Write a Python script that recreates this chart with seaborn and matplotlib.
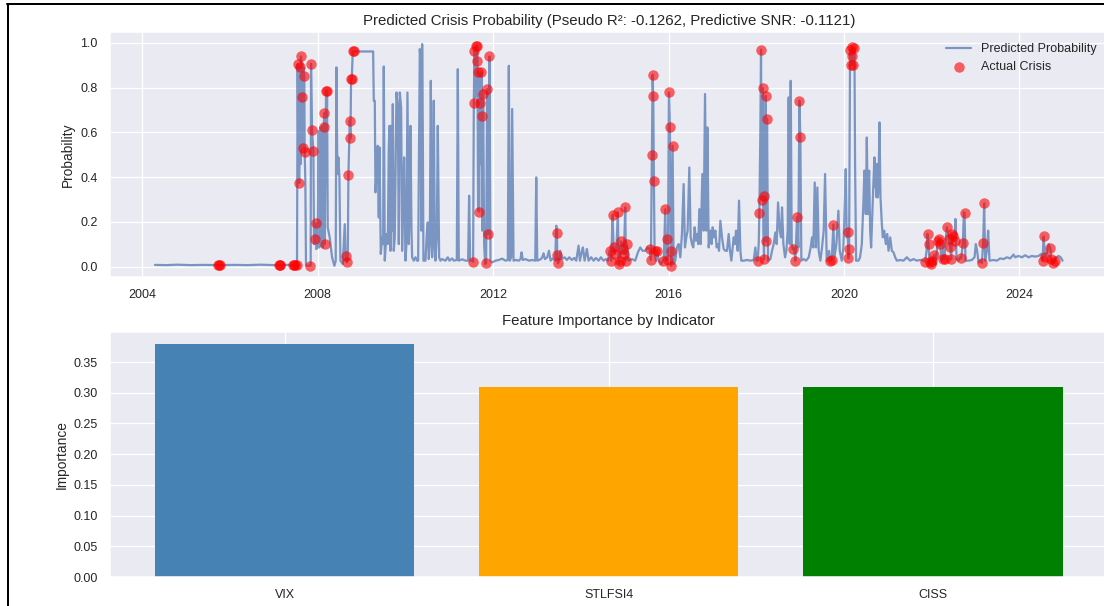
import matplotlib
matplotlib.use("Agg")
import matplotlib.pyplot as plt
import matplotlib.dates as mdates
from matplotlib.lines import Line2D
import pandas as pd
import seaborn as sns

# ---------------------------------------------------------------------------
# Weekly predicted crisis probability, (decimal year, probability)
# ---------------------------------------------------------------------------
prob_2004_2007 = [
    (2004.290, 0.008), (2004.550, 0.007), (2004.800, 0.009), (2005.100, 0.007),
    (2005.400, 0.008), (2005.750, 0.007), (2006.100, 0.008), (2006.400, 0.007),
    (2006.700, 0.009), (2007.000, 0.007), (2007.130, 0.007), (2007.300, 0.008),
    (2007.460, 0.007), (2007.528, 0.007),
]
prob_2007_2009 = [
    (2007.543, 0.905), (2007.559, 0.429), (2007.581, 0.374), (2007.597, 0.893),
    (2007.612, 0.458), (2007.619, 0.939), (2007.635, 0.607), (2007.642, 0.756),
    (2007.657, 0.530), (2007.673, 0.890), (2007.695, 0.853), (2007.703, 0.510),
    (2007.718, 0.384), (2007.733, 0.006), (2007.817, 0.004), (2007.840, 0.006),
    (2007.848, 0.906), (2007.870, 0.612), (2007.901, 0.518), (2007.916, 0.101),
    (2007.931, 0.124), (2007.954, 0.193), (2007.969, 0.079), (2008.000, 0.086),
    (2008.023, 0.607), (2008.038, 0.086), (2008.061, 0.622), (2008.084, 0.094),
    (2008.106, 0.629), (2008.121, 0.086), (2008.137, 0.626), (2008.152, 0.686),
    (2008.159, 0.101), (2008.175, 0.458), (2008.190, 0.786), (2008.205, 0.607),
    (2008.213, 0.786), (2008.228, 0.176), (2008.273, 0.131), (2008.327, 0.042),
    (2008.380, 0.004), (2008.410, 0.027), (2008.426, 0.890), (2008.448, 0.414),
    (2008.471, 0.488), (2008.494, 0.399), (2008.517, 0.027), (2008.570, 0.012),
    (2008.616, 0.190), (2008.638, 0.027), (2008.654, 0.049), (2008.661, 0.019),
    (2008.684, 0.027), (2008.699, 0.411), (2008.730, 0.652), (2008.745, 0.573),
    (2008.760, 0.838), (2008.775, 0.838), (2008.798, 0.961), (2008.821, 0.961),
    (2009.262, 0.961),
]
prob_2009_2011 = [
    (2009.277, 0.741), (2009.300, 0.741), (2009.315, 0.332), (2009.338, 0.399),
    (2009.353, 0.533), (2009.369, 0.540), (2009.391, 0.220), (2009.406, 0.533),
    (2009.437, 0.057), (2009.467, 0.131), (2009.490, 0.101), (2009.505, 0.894),
    (2009.528, 0.027), (2009.566, 0.146), (2009.597, 0.101), (2009.619, 0.533),
    (2009.635, 0.629), (2009.657, 0.071), (2009.680, 0.629), (2009.695, 0.161),
    (2009.711, 0.726), (2009.733, 0.071), (2009.756, 0.131), (2009.794, 0.778),
    (2009.825, 0.711), (2009.848, 0.101), (2009.870, 0.778), (2009.901, 0.711),
    (2009.924, 0.071), (2009.946, 0.310), (2009.969, 0.488), (2010.000, 0.027),
    (2010.022, 0.101), (2010.045, 0.778), (2010.076, 0.101), (2010.099, 0.310),
    (2010.114, 0.629), (2010.137, 0.161), (2010.152, 0.042), (2010.190, 0.027),
    (2010.228, 0.042), (2010.266, 0.027), (2010.289, 0.027), (2010.312, 0.607),
    (2010.327, 0.972), (2010.350, 0.890), (2010.365, 0.161), (2010.380, 0.994),
    (2010.395, 0.607), (2010.410, 0.027), (2010.456, 0.027), (2010.486, 0.146),
    (2010.509, 0.198), (2010.532, 0.034), (2010.555, 0.101), (2010.578, 0.830),
    (2010.608, 0.042), (2010.631, 0.161), (2010.646, 0.741), (2010.669, 0.101),
    (2010.684, 0.027), (2010.714, 0.131), (2010.737, 0.629), (2010.768, 0.042),
    (2010.798, 0.027), (2010.836, 0.034), (2010.912, 0.027), (2010.965, 0.042),
    (2011.003, 0.027), (2011.064, 0.037), (2011.102, 0.027), (2011.171, 0.030),
    (2011.194, 0.882), (2011.216, 0.027), (2011.292, 0.033), (2011.368, 0.027),
    (2011.429, 0.027), (2011.452, 0.317), (2011.475, 0.027),
]
prob_2011_2013 = [
    (2011.521, 0.027), (2011.543, 0.022), (2011.559, 0.729), (2011.574, 0.964),
    (2011.589, 0.756), (2011.604, 0.984), (2011.619, 0.830), (2011.635, 0.987),
    (2011.642, 0.920), (2011.657, 0.250), (2011.665, 0.868), (2011.680, 0.246),
    (2011.695, 0.729), (2011.718, 0.458), (2011.733, 0.868), (2011.741, 0.674),
    (2011.756, 0.161), (2011.771, 0.771), (2011.795, 0.101), (2011.817, 0.012),
    (2011.840, 0.016), (2011.863, 0.793), (2011.885, 0.146), (2011.916, 0.939),
    (2011.939, 0.027), (2011.977, 0.019), (2012.053, 0.027), (2012.129, 0.030),
    (2012.205, 0.036), (2012.281, 0.027), (2012.334, 0.030), (2012.357, 0.897),
    (2012.380, 0.027), (2012.410, 0.042), (2012.433, 0.704), (2012.464, 0.027),
    (2012.524, 0.030), (2012.585, 0.027), (2012.623, 0.034), (2012.646, 0.064),
    (2012.676, 0.030), (2012.737, 0.034), (2012.813, 0.027), (2012.889, 0.030),
    (2012.958, 0.027), (2012.981, 0.399), (2013.003, 0.027), (2013.080, 0.033),
    (2013.118, 0.042), (2013.148, 0.060), (2013.178, 0.034), (2013.232, 0.042),
    (2013.270, 0.071), (2013.308, 0.027), (2013.346, 0.036), (2013.414, 0.027),
    (2013.437, 0.183), (2013.452, 0.149), (2013.460, 0.054), (2013.475, 0.015),
    (2013.505, 0.027),
]
prob_2013_2016 = [
    (2013.528, 0.071), (2013.566, 0.034), (2013.627, 0.042), (2013.680, 0.030),
    (2013.733, 0.042), (2013.794, 0.030), (2013.848, 0.039), (2013.893, 0.027),
    (2013.946, 0.094), (2013.977, 0.027), (2014.023, 0.071), (2014.045, 0.086),
    (2014.083, 0.027), (2014.136, 0.079), (2014.174, 0.027), (2014.235, 0.042),
    (2014.289, 0.027), (2014.342, 0.039), (2014.403, 0.027), (2014.456, 0.042),
    (2014.517, 0.027), (2014.570, 0.034), (2014.616, 0.027), (2014.654, 0.071),
    (2014.692, 0.027), (2014.722, 0.232), (2014.745, 0.086), (2014.783, 0.057),
    (2014.813, 0.101), (2014.844, 0.243), (2014.859, 0.012), (2014.897, 0.027),
    (2014.920, 0.113), (2014.958, 0.079), (2014.981, 0.057), (2015.011, 0.265),
    (2015.026, 0.027), (2015.049, 0.101), (2015.087, 0.027), (2015.163, 0.034),
    (2015.239, 0.027), (2015.300, 0.064), (2015.353, 0.086), (2015.407, 0.071),
    (2015.467, 0.071), (2015.521, 0.086), (2015.566, 0.079), (2015.597, 0.030),
    (2015.619, 0.499), (2015.635, 0.857), (2015.650, 0.760), (2015.665, 0.381),
    (2015.680, 0.071), (2015.711, 0.027), (2015.733, 0.071), (2015.772, 0.027),
    (2015.832, 0.012), (2015.870, 0.027), (2015.893, 0.042), (2015.924, 0.257),
    (2015.946, 0.027), (2015.970, 0.124), (2015.985, 0.030), (2016.008, 0.778),
    (2016.030, 0.626), (2016.045, 0.071), (2016.060, 0.004), (2016.091, 0.540),
    (2016.114, 0.012),
]
prob_2016_2019 = [
    (2016.152, 0.027), (2016.190, 0.086), (2016.228, 0.101), (2016.266, 0.042),
    (2016.304, 0.146), (2016.342, 0.369), (2016.372, 0.086), (2016.403, 0.131),
    (2016.433, 0.161), (2016.471, 0.443), (2016.502, 0.131), (2016.532, 0.101),
    (2016.562, 0.086), (2016.593, 0.176), (2016.623, 0.116), (2016.654, 0.146),
    (2016.676, 0.101), (2016.699, 0.257), (2016.730, 0.101), (2016.768, 0.414),
    (2016.798, 0.161), (2016.829, 0.771), (2016.859, 0.161), (2016.882, 0.622),
    (2016.912, 0.086), (2016.950, 0.161), (2016.980, 0.101), (2017.003, 0.176),
    (2017.034, 0.131), (2017.064, 0.161), (2017.094, 0.086), (2017.125, 0.101),
    (2017.148, 0.071), (2017.178, 0.205), (2017.216, 0.131), (2017.254, 0.079),
    (2017.292, 0.071), (2017.330, 0.071), (2017.368, 0.146), (2017.398, 0.071),
    (2017.429, 0.027), (2017.460, 0.086), (2017.483, 0.131), (2017.513, 0.101),
    (2017.536, 0.161), (2017.574, 0.071), (2017.604, 0.295), (2017.635, 0.071),
    (2017.657, 0.027), (2017.711, 0.027), (2017.787, 0.030), (2017.863, 0.027),
    (2017.939, 0.030), (2017.977, 0.086), (2018.007, 0.027), (2018.030, 0.027),
    (2018.053, 0.101), (2018.068, 0.240), (2018.091, 0.607), (2018.106, 0.969),
    (2018.121, 0.298), (2018.144, 0.798), (2018.159, 0.161), (2018.175, 0.034),
    (2018.182, 0.314), (2018.197, 0.458), (2018.213, 0.763), (2018.228, 0.113),
    (2018.243, 0.661), (2018.266, 0.027), (2018.319, 0.034), (2018.357, 0.071),
    (2018.395, 0.101), (2018.433, 0.153), (2018.463, 0.101), (2018.494, 0.287),
    (2018.532, 0.161), (2018.562, 0.131), (2018.585, 0.265), (2018.616, 0.101),
    (2018.654, 0.042), (2018.684, 0.071), (2018.714, 0.161), (2018.737, 0.756),
    (2018.760, 0.101), (2018.783, 0.830), (2018.806, 0.101), (2018.829, 0.079),
    (2018.859, 0.083), (2018.889, 0.027), (2018.927, 0.220), (2018.958, 0.086),
    (2018.981, 0.741), (2019.003, 0.580), (2019.026, 0.027), (2019.079, 0.034),
    (2019.133, 0.027), (2019.194, 0.042), (2019.239, 0.086), (2019.270, 0.131),
    (2019.300, 0.086), (2019.331, 0.376), (2019.361, 0.086), (2019.391, 0.354),
    (2019.422, 0.071), (2019.460, 0.027), (2019.498, 0.086), (2019.536, 0.161),
    (2019.567, 0.414), (2019.605, 0.027), (2019.658, 0.071), (2019.681, 0.027),
    (2019.719, 0.030), (2019.757, 0.188), (2019.780, 0.042), (2019.826, 0.101),
    (2019.871, 0.250), (2019.902, 0.071), (2019.947, 0.027), (2019.985, 0.086),
]
prob_2020_2025 = [
    (2020.023, 0.310), (2020.038, 0.436), (2020.061, 0.131), (2020.084, 0.153),
    (2020.099, 0.037), (2020.115, 0.079), (2020.137, 0.967), (2020.160, 0.900),
    (2020.175, 0.942), (2020.191, 0.979), (2020.213, 0.900), (2020.236, 0.976),
    (2020.251, 0.458), (2020.274, 0.027), (2020.327, 0.027), (2020.365, 0.042),
    (2020.404, 0.101), (2020.442, 0.295), (2020.464, 0.429), (2020.495, 0.235),
    (2020.518, 0.577), (2020.540, 0.235), (2020.571, 0.429), (2020.594, 0.161),
    (2020.616, 0.086), (2020.647, 0.265), (2020.670, 0.384), (2020.692, 0.488),
    (2020.708, 0.354), (2020.723, 0.458), (2020.738, 0.310), (2020.753, 0.458),
    (2020.769, 0.310), (2020.784, 0.354), (2020.806, 0.644), (2020.829, 0.310),
    (2020.860, 0.190), (2020.882, 0.131), (2020.913, 0.161), (2020.951, 0.101),
    (2020.981, 0.146), (2021.012, 0.071), (2021.050, 0.131), (2021.088, 0.071),
    (2021.126, 0.064), (2021.164, 0.042), (2021.202, 0.027), (2021.278, 0.030),
    (2021.354, 0.027), (2021.430, 0.042), (2021.506, 0.027), (2021.582, 0.034),
    (2021.658, 0.027), (2021.734, 0.030), (2021.810, 0.027), (2021.848, 0.022),
    (2021.879, 0.071), (2021.902, 0.146), (2021.924, 0.101), (2021.947, 0.019),
    (2021.985, 0.012), (2022.015, 0.027), (2022.054, 0.054), (2022.084, 0.012),
    (2022.115, 0.071), (2022.137, 0.116), (2022.168, 0.124), (2022.191, 0.101),
    (2022.221, 0.027), (2022.244, 0.034), (2022.267, 0.101), (2022.289, 0.034),
    (2022.320, 0.131), (2022.343, 0.176), (2022.381, 0.124), (2022.419, 0.086),
    (2022.442, 0.033), (2022.457, 0.146), (2022.480, 0.135), (2022.518, 0.113),
    (2022.540, 0.213), (2022.563, 0.034), (2022.609, 0.027), (2022.647, 0.042),
    (2022.670, 0.037), (2022.708, 0.104), (2022.731, 0.243), (2022.746, 0.238),
    (2022.768, 0.027), (2022.837, 0.027), (2022.913, 0.030), (2022.974, 0.042),
    (2023.004, 0.101), (2023.034, 0.071), (2023.065, 0.019), (2023.118, 0.027),
    (2023.141, 0.016), (2023.171, 0.104), (2023.194, 0.283), (2023.217, 0.027),
    (2023.255, 0.071), (2023.285, 0.161), (2023.316, 0.027), (2023.407, 0.030),
    (2023.483, 0.027), (2023.559, 0.037), (2023.636, 0.034), (2023.712, 0.042),
    (2023.788, 0.037), (2023.864, 0.054), (2023.902, 0.042), (2023.978, 0.048),
    (2024.054, 0.042), (2024.130, 0.051), (2024.206, 0.042), (2024.282, 0.048),
    (2024.358, 0.045), (2024.434, 0.048), (2024.495, 0.057), (2024.525, 0.027),
    (2024.548, 0.135), (2024.571, 0.071), (2024.586, 0.045), (2024.624, 0.060),
    (2024.662, 0.101), (2024.700, 0.083), (2024.723, 0.034), (2024.761, 0.016),
    (2024.799, 0.027), (2024.837, 0.042), (2024.890, 0.048), (2024.936, 0.042),
    (2024.981, 0.027),
]

# Weeks flagged as actual crises, with the model probability on those weeks
crisis_points = [
    (2005.730, 0.007), (2005.750, 0.007), (2005.770, 0.007),
    (2007.110, 0.007), (2007.130, 0.007), (2007.150, 0.007),
    (2007.430, 0.007), (2007.460, 0.007), (2007.490, 0.007), (2007.520, 0.007),
    (2007.543, 0.905), (2007.581, 0.374), (2007.597, 0.893), (2007.619, 0.939),
    (2007.642, 0.756), (2007.657, 0.530), (2007.695, 0.853), (2007.703, 0.510),
    (2007.817, 0.004), (2007.848, 0.906), (2007.870, 0.612), (2007.901, 0.518),
    (2007.931, 0.124), (2007.954, 0.193), (2008.137, 0.626), (2008.152, 0.686),
    (2008.159, 0.101), (2008.190, 0.786), (2008.213, 0.786), (2008.654, 0.049),
    (2008.661, 0.019), (2008.699, 0.411), (2008.730, 0.652), (2008.745, 0.573),
    (2008.760, 0.838), (2008.775, 0.838), (2008.798, 0.961), (2008.821, 0.961),
    (2011.543, 0.022), (2011.559, 0.729), (2011.574, 0.964), (2011.604, 0.984),
    (2011.635, 0.987), (2011.642, 0.920), (2011.665, 0.868), (2011.680, 0.246),
    (2011.695, 0.729), (2011.733, 0.868), (2011.741, 0.674), (2011.771, 0.771),
    (2011.840, 0.016), (2011.863, 0.793), (2011.885, 0.146), (2011.916, 0.939),
    (2013.452, 0.149), (2013.460, 0.054), (2013.475, 0.015),
    (2014.654, 0.071), (2014.692, 0.027), (2014.722, 0.232), (2014.745, 0.086),
    (2014.783, 0.057), (2014.844, 0.243), (2014.859, 0.012), (2014.897, 0.027),
    (2014.920, 0.113), (2014.958, 0.079), (2014.981, 0.057), (2015.011, 0.265),
    (2015.026, 0.027), (2015.049, 0.101),
    (2015.566, 0.079), (2015.597, 0.030), (2015.619, 0.499), (2015.635, 0.857),
    (2015.650, 0.760), (2015.665, 0.381), (2015.680, 0.071), (2015.733, 0.071),
    (2015.870, 0.027), (2015.924, 0.257), (2015.970, 0.124), (2015.985, 0.030),
    (2016.008, 0.778), (2016.030, 0.626), (2016.045, 0.071), (2016.060, 0.004),
    (2016.091, 0.540),
    (2018.030, 0.027), (2018.068, 0.240), (2018.106, 0.969), (2018.121, 0.298),
    (2018.144, 0.798), (2018.175, 0.034), (2018.182, 0.314), (2018.213, 0.763),
    (2018.228, 0.113), (2018.243, 0.661),
    (2018.829, 0.079), (2018.889, 0.027), (2018.927, 0.220), (2018.981, 0.741),
    (2019.003, 0.580),
    (2019.681, 0.027), (2019.719, 0.030), (2019.757, 0.188),
    (2020.084, 0.153), (2020.099, 0.037), (2020.115, 0.079), (2020.137, 0.967),
    (2020.160, 0.900), (2020.175, 0.942), (2020.191, 0.979), (2020.213, 0.900),
    (2020.236, 0.976),
    (2021.848, 0.022), (2021.902, 0.146), (2021.924, 0.101), (2021.947, 0.019),
    (2021.985, 0.012), (2022.015, 0.027), (2022.054, 0.054), (2022.137, 0.116),
    (2022.168, 0.124), (2022.191, 0.101), (2022.244, 0.034), (2022.289, 0.034),
    (2022.343, 0.176), (2022.381, 0.124), (2022.419, 0.086), (2022.442, 0.033),
    (2022.457, 0.146), (2022.480, 0.135), (2022.518, 0.113), (2022.670, 0.037),
    (2022.708, 0.104), (2022.746, 0.238),
    (2023.141, 0.016), (2023.171, 0.104), (2023.194, 0.283),
    (2024.525, 0.027), (2024.548, 0.135), (2024.586, 0.045), (2024.700, 0.083),
    (2024.723, 0.034), (2024.761, 0.016), (2024.799, 0.027),
]

# Feature importance of each stress indicator
indicators = ["VIX", "STLFSI4", "CISS"]
importances = [0.38, 0.31, 0.31]
bar_colors = ["steelblue", "orange", "green"]

pseudo_r2 = -0.1262
predictive_snr = -0.1121


def to_timestamp(decimal_year):
    year = int(decimal_year)
    start = pd.Timestamp(year=year, month=1, day=1)
    end = pd.Timestamp(year=year + 1, month=1, day=1)
    return start + (end - start) * (decimal_year - year)


series = (prob_2004_2007 + prob_2007_2009 + prob_2009_2011 + prob_2011_2013
          + prob_2013_2016 + prob_2016_2019 + prob_2020_2025)
pred = pd.DataFrame(series, columns=["year", "prob"])
pred["date"] = pred["year"].map(to_timestamp)

crisis = pd.DataFrame(crisis_points, columns=["year", "prob"])
crisis["date"] = crisis["year"].map(to_timestamp)

# ---------------------------------------------------------------------------
# Styling
# ---------------------------------------------------------------------------
sns.set_theme(style="darkgrid")
plt.rcParams["font.family"] = ["Liberation Sans", "DejaVu Sans"]
plt.rcParams.update({
    "xtick.labelsize": 10,
    "ytick.labelsize": 10,
    "axes.labelsize": 11,
    "axes.titlesize": 12,
    "legend.fontsize": 10,
})

DPI = 90
W, H = 1104, 606
fig = plt.figure(figsize=(W / DPI, H / DPI), dpi=DPI)
fig.patch.set_facecolor("white")

left = 109.6 / W
width = (1108 - 109.6) / W
ax1 = fig.add_axes([left, 1 - 277 / H, width, 245 / H])
ax2 = fig.add_axes([left, 1 - 577 / H, width, 245 / H])

# ---- predicted probability vs. actual crises ------------------------------
line_color = sns.color_palette("deep")[0]
sns.lineplot(data=pred, x="date", y="prob", ax=ax1, color=line_color,
             alpha=0.7, linewidth=1.8, estimator=None, sort=False,
             label="Predicted Probability")
sns.scatterplot(data=crisis, x="date", y="prob", ax=ax1, color="red",
                alpha=0.6, s=70, linewidth=0, label="Actual Crisis", zorder=3)

ax1.set_title(f"Predicted Crisis Probability (Pseudo R²: {pseudo_r2:.4f}, "
              f"Predictive SNR: {predictive_snr:.4f})")
ax1.set_xlabel("")
ax1.set_ylabel("Probability")
ax1.set_ylim(-0.046, 1.048)
ax1.xaxis.set_major_locator(mdates.YearLocator(4))
ax1.xaxis.set_major_formatter(mdates.DateFormatter("%Y"))
ax1.legend(loc="upper right", frameon=False)

# ---- feature importance ---------------------------------------------------
sns.barplot(x=indicators, y=importances, hue=indicators, palette=bar_colors,
            saturation=1, legend=False, width=0.8, linewidth=0, ax=ax2)
ax2.set_xlim(-0.54, 2.54)
ax2.xaxis.grid(True)
ax2.set_title("Feature Importance by Indicator")
ax2.set_xlabel("")
ax2.set_ylabel("Importance")

# window frame around the figure
lw = 2 * 72 / DPI
fig.add_artist(Line2D([7.5 / W, 7.5 / W], [0, 1 - 3.5 / H],
                      transform=fig.transFigure, color="black", linewidth=lw))
fig.add_artist(Line2D([7.0 / W, 1.0], [1 - 4.0 / H, 1 - 4.0 / H],
                      transform=fig.transFigure, color="black", linewidth=lw))

fig.savefig("out.png", dpi=DPI, facecolor="white")
